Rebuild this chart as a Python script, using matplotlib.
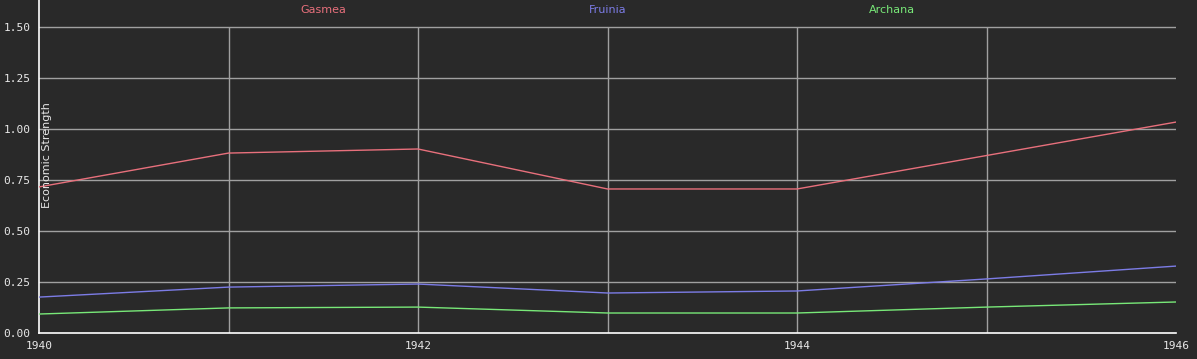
import matplotlib
matplotlib.use("Agg")
import matplotlib.pyplot as plt

# data
years = [1940, 1941, 1942, 1943, 1944, 1945, 1946]
gasmea = [0.716, 0.882, 0.902, 0.706, 0.706, 0.87, 1.034]
fruinia = [0.176, 0.225, 0.24, 0.196, 0.206, 0.265, 0.328]
archana = [0.093, 0.123, 0.127, 0.098, 0.098, 0.127, 0.152]
series_names = ['Gasmea', 'Fruinia', 'Archana']
yticks = [0.0, 0.25, 0.5, 0.75, 1.0, 1.25, 1.5]
xticks = [1940, 1942, 1944, 1946]

BG = '#292929'
COLORS = ['#e8707c', '#7c7ce6', '#78e878']

fig = plt.figure(figsize=(11.97, 3.59), dpi=100)
fig.patch.set_facecolor(BG)
W, H = 1197, 359
ax = fig.add_axes([39 / W, (H - 333) / H, 1137 / W, 333 / H])
ax.set_facecolor(BG)

ymax = 1.5 + 27 / 204
ax.set_xlim(1940, 1946)
ax.set_ylim(0, ymax)

# grid
for y in yticks[1:]:
    ax.axhline(y, color='#a0a0a0', lw=1, zorder=1)
for x in years[1:-1]:
    ax.vlines(x, 0, 1.5, color='#a0a0a0', lw=1, zorder=1)

for vals, c in zip([gasmea, fruinia, archana], COLORS):
    ax.plot(years, vals, color=c, lw=1, zorder=3)

for spine in ['top', 'right']:
    ax.spines[spine].set_visible(False)
for spine in ['left', 'bottom']:
    ax.spines[spine].set_color('white')
    ax.spines[spine].set_linewidth(1.2)

ax.set_yticks(yticks)
ax.set_yticklabels([f'{v:.2f}' for v in yticks])
ax.set_xticks(xticks)
ax.set_xticklabels([str(v) for v in xticks])
ax.tick_params(length=0, colors='#e8e8e8', labelsize=8)
ax.tick_params(axis='y', pad=6)
ax.tick_params(axis='x', pad=6)
for lab in ax.get_xticklabels() + ax.get_yticklabels():
    lab.set_family('DejaVu Sans Mono')

# legend labels at top
for i, (name, c) in enumerate(zip(series_names, COLORS)):
    ax.text(0.25 * (i + 1), (ymax - 10 / 204) / ymax, name, transform=ax.transAxes,
            ha='center', va='center', color=c, fontsize=8)

ax.text(0.007, 0.535, 'Economic Strength', transform=ax.transAxes, rotation=90,
        ha='center', va='center', color='#e8e8e8', fontsize=8)

fig.savefig('out.png', dpi=100, facecolor=BG)
